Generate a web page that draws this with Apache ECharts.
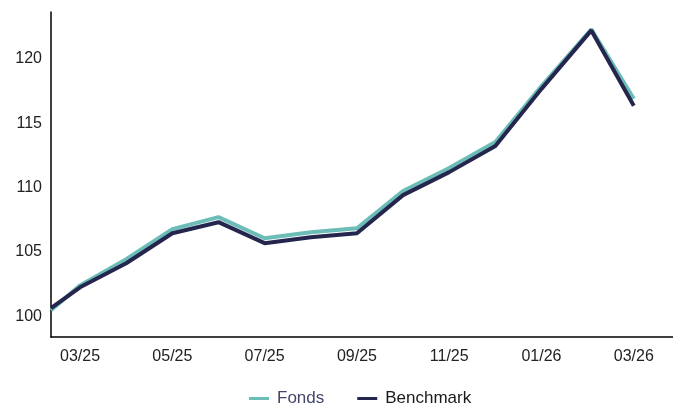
<!DOCTYPE html>
<html>
<head>
<meta charset="utf-8">
<script src="https://cdn.jsdelivr.net/npm/echarts@6/dist/echarts.min.js"></script>
<style>html,body{margin:0;padding:0;background:#fff}#c{width:673px;height:405px}</style>
</head>
<body>
<div id="c"></div>
<script>
// month offsets relative to 03/25
var monthPos = [-0.63, 0, 1, 2, 3, 4, 5, 6, 7, 8, 9, 10, 11.08, 12];
var fonds = [100.47, 102.41, 104.44, 106.78, 107.71, 106.07, 106.54, 106.85, 109.74, 111.53, 113.55, 117.9, 122.3, 116.9];
var benchmark = [100.65, 102.26, 104.13, 106.46, 107.32, 105.69, 106.15, 106.46, 109.42, 111.21, 113.24, 117.68, 122.22, 116.36];
var tickPos = [0, 2, 4, 6, 8, 10, 12];
var tickLabels = ['03/25', '05/25', '07/25', '09/25', '11/25', '01/26', '03/26'];
var yTicks = [100, 105, 110, 115, 120];

function pairs(xs, ys) { return xs.map(function (x, i) { return [x, ys[i]]; }); }

var FONT = 'Liberation Sans, Arial, sans-serif';
var chart = echarts.init(document.getElementById('c'), null, { renderer: 'canvas' });
chart.setOption({
  animation: false,
  backgroundColor: '#fff',
  grid: { left: 51, right: 0, top: 12, bottom: 68, containLabel: false },
  legend: {
    top: 390,
    left: 249,
    padding: 0,
    icon: 'rect',
    itemWidth: 20,
    itemHeight: 3,
    itemGap: 33,
    textStyle: { fontFamily: FONT, fontSize: 17, color: '#1a1a1a', padding: [0, 0, 0, 3] },
    data: [
      { name: 'Fonds', textStyle: { color: '#44466a' } },
      { name: 'Benchmark', textStyle: { color: '#1a1a1a' } }
    ]
  },
  xAxis: {
    type: 'value',
    min: -0.63,
    max: 12.85,
    axisLine: { show: true, onZero: false, lineStyle: { color: '#000', width: 1.5 } },
    axisTick: { show: false },
    splitLine: { show: false },
    axisLabel: {
      customValues: tickPos,
      margin: 12,
      fontFamily: FONT,
      fontSize: 16,
      color: '#222',
      formatter: function (v) { var i = tickPos.indexOf(v); return i >= 0 ? tickLabels[i] : ''; }
    }
  },
  yAxis: {
    type: 'value',
    min: 98.4,
    max: 123.65,
    axisLine: { show: true, onZero: false, lineStyle: { color: '#000', width: 1.5 } },
    axisTick: { show: false },
    splitLine: { show: false },
    axisLabel: {
      customValues: yTicks,
      margin: 9,
      fontFamily: FONT,
      fontSize: 16,
      color: '#222'
    }
  },
  series: [
    {
      name: 'Fonds',
      type: 'line',
      data: pairs(monthPos, fonds),
      showSymbol: false,
      symbol: 'none',
      lineStyle: { color: '#6cbdb8', width: 4 },
      itemStyle: { color: '#6cbdb8' },
      z: 2
    },
    {
      name: 'Benchmark',
      type: 'line',
      data: pairs(monthPos, benchmark),
      showSymbol: false,
      symbol: 'none',
      lineStyle: { color: '#24264d', width: 4 },
      itemStyle: { color: '#24264d' },
      z: 3
    }
  ]
});
</script>
</body>
</html>
